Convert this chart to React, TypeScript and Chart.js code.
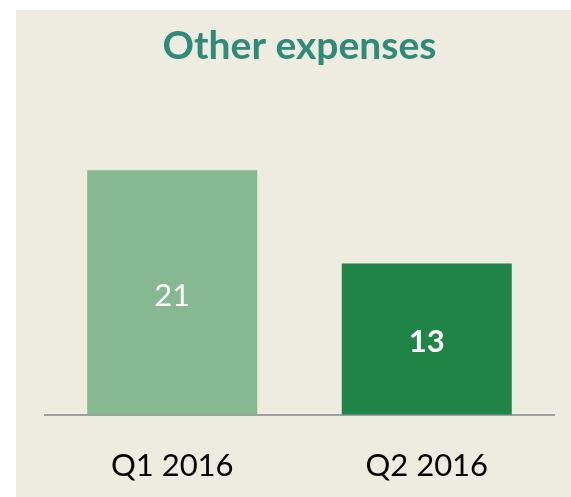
import React, { useEffect, useRef } from "react";
import { Chart, registerables } from "chart.js";

Chart.register(...registerables);

const categories = ["Q1 2016", "Q2 2016"];
const values = [21, 13];
const barColors = ["#86B992", "#1F8446"];
const labelWeights = ["normal", "bold"];
const titleText = "Other expenses";

const FONT = "Lato, 'Open Sans', sans-serif";

const valueLabelPlugin = {
  id: "valueLabels",
  afterDatasetsDraw(chart: any) {
    const ctx = chart.ctx;
    const meta = chart.getDatasetMeta(0);
    ctx.save();
    ctx.fillStyle = "#FFFFFF";
    ctx.textAlign = "center";
    ctx.textBaseline = "middle";
    meta.data.forEach((bar: any, i: number) => {
      const { x, y, base } = bar.getProps(["x", "y", "base"], true);
      ctx.font = `${labelWeights[i]} 31px ${FONT}`;
      ctx.fillText(String(values[i]), x, (y + base) / 2 + 3);
    });
    ctx.restore();
  },
};

export default function App() {
  const ref = useRef<HTMLCanvasElement | null>(null);
  useEffect(() => {
    if (!ref.current) return;
    const chart = new Chart(ref.current, {
      type: "bar",
      data: {
        labels: categories,
        datasets: [
          {
            data: values,
            backgroundColor: barColors,
            borderWidth: 0,
            categoryPercentage: 1,
            barPercentage: 0.668,
          },
        ],
      },
      options: {
        animation: false,
        responsive: false,
        maintainAspectRatio: false,
        layout: { padding: { left: 29, right: 17, top: 0, bottom: -21 } },
        plugins: {
          legend: { display: false },
          tooltip: { enabled: false },
          title: {
            display: true,
            text: titleText,
            color: "#2E8B7A",
            font: { family: FONT, size: 39, weight: "bold" },
            padding: { top: 13, bottom: 54 },
          },
        },
        scales: {
          x: {
            grid: { display: false, drawTicks: false },
            border: { display: true, color: "#A0A0A0", width: 2 },
            ticks: {
              color: "#000000",
              padding: 33,
              font: { family: FONT, size: 31 },
            },
          },
          y: {
            display: false,
            min: 0,
            max: 25,
          },
        },
      },
      plugins: [valueLabelPlugin],
    });
    return () => chart.destroy();
  }, []);
  return (
    <div
      style={{
        position: "absolute",
        left: 16,
        top: 10,
        width: 555,
        height: 487,
        background: "#EEEBE0",
      }}
    >
      <canvas ref={ref} width={555} height={487} style={{ display: "block" }} />
    </div>
  );
}
